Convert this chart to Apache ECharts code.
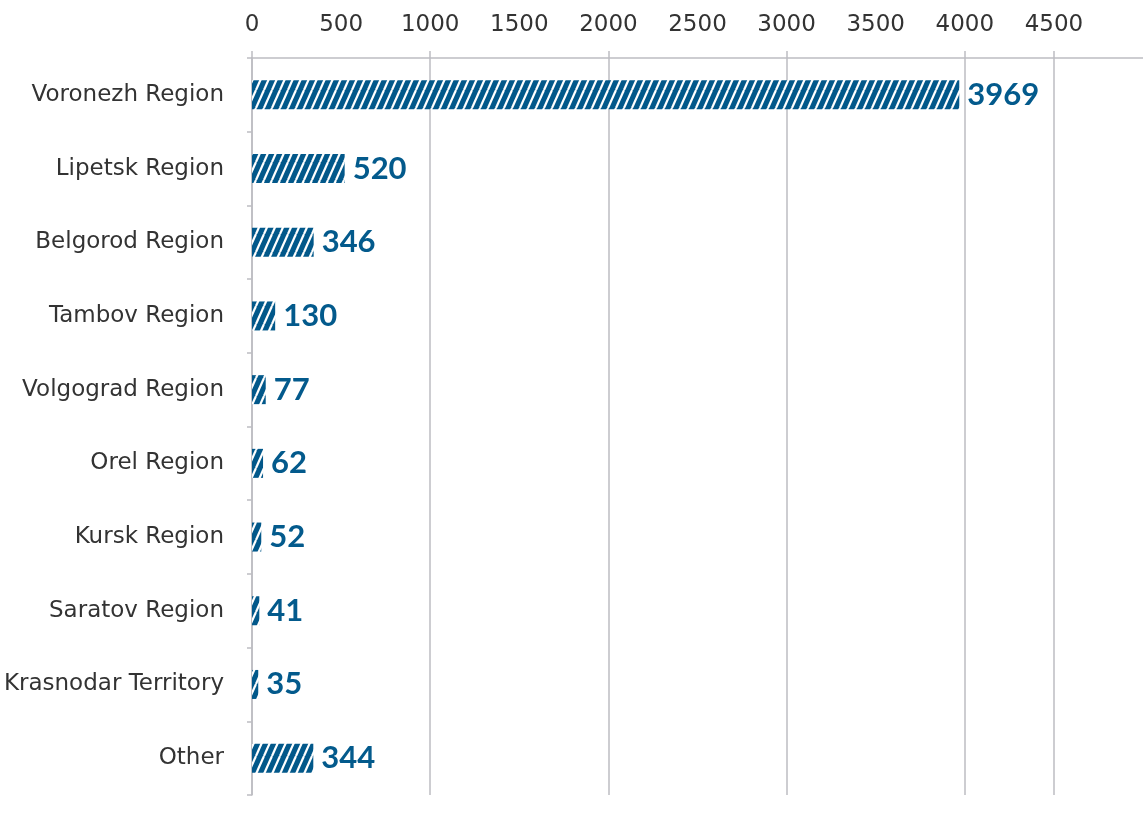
<!DOCTYPE html>
<html>
<head>
<meta charset="utf-8">
<script src="https://cdn.jsdelivr.net/npm/echarts@6/dist/echarts.min.js"></script>
<style>html,body{margin:0;padding:0;background:#fff;}#c{width:1143px;height:814px;}</style>
</head>
<body>
<div id="c"></div>
<script>
const categories = ["Voronezh Region","Lipetsk Region","Belgorod Region","Tambov Region","Volgograd Region","Orel Region","Kursk Region","Saratov Region","Krasnodar Territory","Other"];
const values = [3969, 520, 346, 130, 77, 62, 52, 41, 35, 344];
const tickLabels = [0, 500, 1000, 1500, 2000, 2500, 3000, 3500, 4000, 4500];
const majorTicks = [0, 1000, 2000, 3000, 4000, 4500];

function makePattern() {
  const w = 8, h = 18;
  const cv = document.createElement('canvas');
  cv.width = w; cv.height = h;
  const ctx = cv.getContext('2d');
  ctx.fillStyle = '#02588a';
  ctx.fillRect(0, 0, w, h);
  ctx.strokeStyle = '#ffffff';
  ctx.lineWidth = 2.2;
  for (let k = -1; k <= 1; k++) {
    ctx.beginPath();
    ctx.moveTo(k * w, h);
    ctx.lineTo(k * w + w, 0);
    ctx.stroke();
  }
  return cv;
}

const chart = echarts.init(document.getElementById('c'), null, {renderer: 'canvas'});
const gray = '#bdbdc2';
const labelFont = 'DejaVu Sans';
chart.setOption({
  animation: false,
  grid: {left: 252, top: 58, right: -1.5, bottom: 19, containLabel: false},
  xAxis: {
    type: 'value', position: 'top', min: 0, max: 5000, interval: 500,
    axisLine: {show: true, lineStyle: {color: gray, width: 1.5}},
    axisTick: {show: true, length: 7, customValues: majorTicks, lineStyle: {color: gray, width: 1.5}},
    axisLabel: {customValues: tickLabels, formatter: v => String(v), margin: 21, color: '#333', fontSize: 23, fontFamily: labelFont},
    splitLine: {show: true, lineStyle: {color: gray, width: 1.5}}
  },
  yAxis: {
    type: 'category', data: categories, inverse: true,
    axisLine: {show: true, lineStyle: {color: gray, width: 1.5}},
    axisTick: {show: true, length: 5, lineStyle: {color: gray, width: 1.5}},
    axisLabel: {margin: 28, color: '#333', fontSize: 23, fontFamily: labelFont}
  },
  series: [{
    type: 'bar', data: values, barWidth: 29,
    itemStyle: {color: {image: makePattern(), repeat: 'repeat'}},
    label: {show: true, position: 'right', distance: 8, color: '#035a8c', fontSize: 31, fontWeight: 'bold', fontFamily: 'Lato'}
  }]
});
</script>
</body>
</html>
